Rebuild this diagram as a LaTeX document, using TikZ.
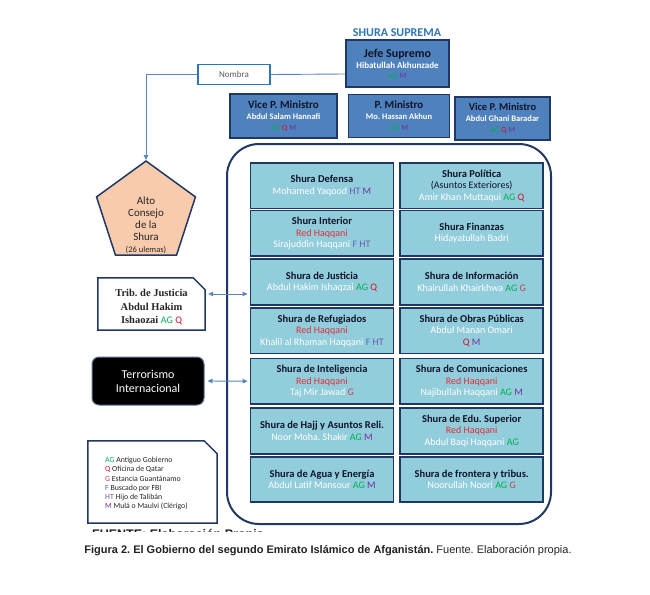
\documentclass[tikz,border=0pt]{standalone}
\usepackage{fontspec}
\setmainfont{Carlito}
\newfontfamily\arialf{Liberation Sans}
\newfontfamily\timesf{Liberation Serif}
\usetikzlibrary{shapes.geometric,arrows.meta}
\definecolor{navy}{HTML}{1F3864}
\definecolor{midblue}{HTML}{4F81BD}
\definecolor{lightb}{HTML}{92CDDC}
\definecolor{titleblue}{HTML}{2E75B6}
\definecolor{peach}{HTML}{F8CBAD}
\definecolor{cAG}{HTML}{00B050}
\definecolor{cQ}{HTML}{D0102A}
\definecolor{cG}{HTML}{C8404D}
\definecolor{cF}{HTML}{4F6FC0}
\definecolor{cHT}{HTML}{6A5AA8}
\definecolor{cM}{HTML}{7030A0}
\definecolor{redh}{HTML}{E02F3A}
\definecolor{linec}{HTML}{5B85C0}
\definecolor{ttxt}{HTML}{10142A}
\definecolor{captc}{HTML}{222222}
\newcommand\tAG{{\color{cAG}AG}}
\newcommand\tQ{{\color{cQ}Q}}
\newcommand\tG{{\color{cG}G}}
\newcommand\tF{{\color{cF}F}}
\newcommand\tHT{{\color{cHT}HT}}
\newcommand\tM{{\color{cM}M}}
\newcommand\ttl[1]{{\bfseries\color{ttxt}#1}}
\newcommand\gt[1]{{\fontsize{10.5}{11.5}\selectfont\bfseries\color{ttxt}#1}}
\newcommand\nm[1]{{\color{white}#1}}
\newcommand\rh{{\color{redh}Red Haqqani}}
\frenchspacing
\begin{document}
\begin{tikzpicture}[x=1pt,y=-1pt,
  gbox/.style={draw=navy, line width=1.8pt, fill=lightb, minimum width=143pt, minimum height=45.5pt, align=center, inner sep=0pt, font=\fontsize{10}{11.5}\selectfont},
  tbox/.style={draw=navy, line width=1.8pt, fill=midblue, align=center, inner sep=0pt},
  conn/.style={draw=linec, line width=0.9pt},
  tip/.style={-{Triangle[length=5pt,width=4.5pt]}},
  dtip/.style={{Triangle[length=5pt,width=4.5pt]}-{Triangle[length=5pt,width=4.5pt]}}]
\useasboundingbox[fill=white] (0,0) rectangle (650,594);

% title
\node[font=\bfseries\fontsize{12}{14}\selectfont, text=titleblue] (ss) at (397,32.5) {SHURA SUPREMA};

% top boxes
\node[tbox, minimum width=103pt, minimum height=47pt] (jefe) at (397.5,63.5)
  {{\fontsize{12}{13}\selectfont\ttl{Jefe Supremo}}\\[-1pt]
   {\fontsize{9}{11}\selectfont\bfseries\nm{Hibatullah Akhunzade}}\\[-2pt]
   {\fontsize{8}{10}\selectfont\tAG{} \tM}};
\node[tbox, minimum width=107pt, minimum height=44pt] (vpm1) at (283.5,116)
  {{\fontsize{11}{12}\selectfont\ttl{Vice P. Ministro}}\\[-1pt]
   {\fontsize{8.5}{10}\selectfont\bfseries\nm{Abdul Salam Hannafi}}\\[-1pt]
   {\fontsize{8}{10}\selectfont\tAG{} \tQ{} \tM}};
\node[tbox, minimum width=101pt, minimum height=43pt] (pm) at (399,116)
  {{\fontsize{11}{12}\selectfont\ttl{P. Ministro}}\\[-1pt]
   {\fontsize{8.5}{10}\selectfont\bfseries\nm{Mo. Hassan Akhun}}\\[-1pt]
   {\fontsize{8}{10}\selectfont\tAG{} \tM}};
\node[tbox, minimum width=95pt, minimum height=43pt] (vpm2) at (502.5,118.5)
  {{\fontsize{10.5}{12}\selectfont\ttl{Vice P. Ministro}}\\[-1pt]
   {\fontsize{8.5}{10}\selectfont\bfseries\nm{Abdul Ghani Baradar}}\\[-1pt]
   {\fontsize{8}{10}\selectfont\tAG{} \tQ{} \tM}};

% Nombra
\node[draw=titleblue, line width=1.5pt, fill=white, minimum width=72pt, minimum height=20pt, inner sep=0pt, font=\fontsize{9}{10}\selectfont, text=black!65] (nombra) at (234,74.5) {Nombra};

% pentagon
\node[regular polygon, regular polygon sides=5, minimum size=104pt, draw=navy, line width=1.5pt, fill=peach, inner sep=0pt] (acs) at (146,213) {};
\node[align=center, inner sep=0pt, font=\fontsize{11}{12}\selectfont, text=black!85] (acstxt) at (146,225)
  {Alto\\Consejo\\de la\\Shura\\{\fontsize{8.5}{11}\selectfont(26 ulemas)}};

\draw[conn] ([yshift=-10.5pt]jefe.west) -- (nombra.east);
\draw[conn, tip] (nombra.west) -| (acs.corner 1);

% container
\node[draw=navy, line width=2pt, rounded corners=32pt, fill=white, minimum width=324pt, minimum height=380pt] (cont) at (389,334) {};

% grid
\node[gbox] (def) at (322,185.7) {\gt{Shura Defensa}\\\nm{Mohamed Yaqood} \tHT{} \tM};
\node[gbox] (int) at (322,233.2) {\gt{Shura Interior}\\\rh\\\nm{Sirajuddin Haqqani} \tF{} \tHT};
\node[gbox] (jus) at (322,282) {\gt{Shura de Justicia}\\\nm{Abdul Hakim Ishaqzai} \tAG{} \tQ};
\node[gbox] (ref) at (322,330.7) {\gt{Shura de Refugiados}\\\rh\\\nm{Khalil al Rhaman Haqqani} \tF{} \tHT};
\node[gbox] (intel) at (322,381.2) {\gt{Shura de Inteligencia}\\\rh\\\nm{Taj Mir Jawad} \tG};
\node[gbox] (hajj) at (322,431) {\gt{Shura de Hajj y Asuntos Reli.}\\\nm{Noor Moha. Shakir} \tAG{} \tM};
\node[gbox] (agua) at (322,479.5) {\gt{Shura de Agua y Energía}\\\nm{Abdul Latif Mansour} \tAG{} \tM};

\node[gbox] (pol) at (471.7,185.7) {\gt{Shura Política}\\{\color{ttxt}(Asuntos Exteriores)}\\\nm{Amir Khan Muttaqui} \tAG{} \tQ};
\node[gbox] (fin) at (471.7,233.2) {\gt{Shura Finanzas}\\\nm{Hidayatullah Badri}};
\node[gbox] (inf) at (471.7,282) {\gt{Shura de Información}\\\nm{Khairullah Khairkhwa} \tAG{} \tG};
\node[gbox] (obr) at (471.7,330.7) {\gt{Shura de Obras Públicas}\\\nm{Abdul Manan Omari}\\\tQ{} \tM};
\node[gbox] (com) at (471.7,381.2) {\gt{Shura de Comunicaciones}\\\rh\\\nm{Najibullah Haqqani} \tAG{} \tM};
\node[gbox] (edu) at (471.7,431) {\gt{Shura de Edu. Superior}\\\rh\\\nm{Abdul Baqi Haqqani} \tAG};
\node[gbox] (fro) at (471.7,479.5) {\gt{Shura de frontera y tribus.}\\\nm{Noorullah Noori} \tAG{} \tG};

% Tribunal
\node[minimum width=107pt, minimum height=52pt, inner sep=0pt] (trib) at (151.5,304) {};
\draw[navy, line width=1.5pt, fill=white] (trib.north west) -- ([xshift=-12pt]trib.north east) -- ([yshift=-12pt]trib.north east) -- (trib.south east) -- (trib.south west) -- cycle;
\node[align=center, inner sep=0pt, font=\timesf\bfseries\fontsize{10.5}{13.5}\selectfont, text=black!85] (tribtxt) at (151.5,307.5)
  {Trib. de Justicia\\Abdul Hakim\\Ishaozai {\normalfont\fontsize{10}{12}\selectfont\tAG{} \tQ}};
\draw[conn, dtip, shorten <=3pt, shorten >=2pt] ([yshift=10pt]trib.east) -- ([yshift=-12pt]jus.west);

% Terrorismo
\node[draw=navy!70, line width=1pt, fill=black, rounded corners=7pt, minimum width=112pt, minimum height=48pt, align=center, text=white, font=\fontsize{12}{14}\selectfont] (terr) at (148,381) {Terrorismo\\Internacional};
\draw[conn, dtip, shorten <=3pt, shorten >=2pt] (terr.east) -- (intel.west);

% legend
\node[minimum width=129pt, minimum height=82pt, inner sep=0pt] (legend) at (152.5,482) {};
\draw[navy, line width=1.5pt, fill=white] (legend.north west) -- ([xshift=-13pt]legend.north east) -- ([yshift=-13pt]legend.north east) -- (legend.south east) -- (legend.south west) -- cycle;
\node[anchor=west, align=left, inner sep=0pt, font=\fontsize{7.8}{9.2}\selectfont, text=black!85] (legtxt) at (105,483.7)
  {\tAG{} Antiguo Gobierno\\\tQ{} Oficina de Qatar\\\tG{} Estancia Guantánamo\\\tF{} Buscado por FBI\\\tHT{} Hijo de Talibán\\\tM{} Mulá o Maulvi (Clérigo)};

% cut-off source line
\begin{scope}
\clip (85,525) rectangle (300,531.5);
\node[anchor=base west, inner sep=0pt, font=\arialf\bfseries\fontsize{12.5}{14}\selectfont, text=captc] (fuente) at (92,538) {FUENTE: Elaboración Propia};
\end{scope}

% caption
\node[font=\arialf\fontsize{11}{13}\selectfont, text=captc, inner sep=0pt] (cap) at (328,551) {\textbf{Figura 2. El Gobierno del segundo Emirato Islámico de Afganistán.} Fuente. Elaboración propia.};
\end{tikzpicture}
\end{document}
